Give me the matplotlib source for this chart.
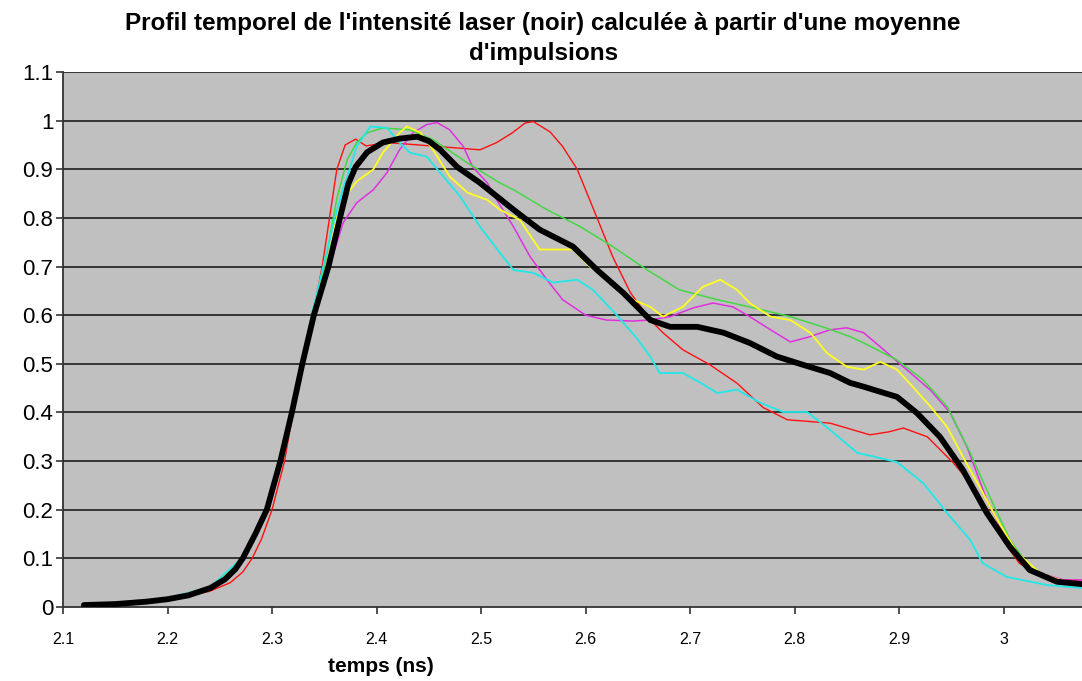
import numpy as np
import matplotlib as mpl
mpl.use('Agg')
import matplotlib.pyplot as plt

# black = average pulse, the coloured ones = single pulses
black_t = [2.12, 2.15, 2.18, 2.2, 2.22, 2.241, 2.255, 2.265, 2.272, 2.284,
           2.295, 2.308, 2.319, 2.329, 2.340, 2.354, 2.365, 2.373, 2.380, 2.391,
           2.406, 2.422, 2.439, 2.45, 2.461, 2.477, 2.499, 2.531, 2.556, 2.588,
           2.611, 2.636, 2.662, 2.681, 2.707, 2.732, 2.757, 2.783, 2.808, 2.834,
           2.853, 2.866, 2.898, 2.917, 2.939, 2.961, 2.984, 3.006, 3.025, 3.051,
           3.075]
black_i = [0.004, 0.006, 0.011, 0.016, 0.024, 0.039, 0.057, 0.078, 0.1, 0.15,
           0.2, 0.3, 0.4, 0.5, 0.6, 0.7, 0.8, 0.87, 0.905, 0.935,
           0.955, 0.963, 0.967, 0.958, 0.94, 0.905, 0.872, 0.817, 0.776, 0.741,
           0.693, 0.646, 0.59, 0.576, 0.576, 0.564, 0.543, 0.515, 0.498, 0.481,
           0.461, 0.453, 0.432, 0.399, 0.35, 0.282, 0.193, 0.124, 0.076, 0.052,
           0.047]

red_t = [2.12, 2.2, 2.24, 2.26, 2.272, 2.281, 2.29, 2.300, 2.312, 2.320,
         2.330, 2.339, 2.348, 2.355, 2.362, 2.370, 2.38, 2.39, 2.41, 2.44,
         2.47, 2.499, 2.515, 2.53, 2.542, 2.55, 2.566, 2.578, 2.592, 2.611,
         2.626, 2.643, 2.662, 2.674, 2.693, 2.719, 2.745, 2.77, 2.793, 2.834,
         2.872, 2.89, 2.904, 2.927, 2.952, 2.968, 2.985, 3.0, 3.015, 3.035,
         3.055, 3.075]
red_i = [0.004, 0.015, 0.032, 0.05, 0.072, 0.1, 0.14, 0.2, 0.3, 0.4,
         0.5, 0.6, 0.7, 0.8, 0.9, 0.95, 0.962, 0.948, 0.955, 0.95,
         0.945, 0.94, 0.955, 0.975, 0.995, 0.998, 0.977, 0.947, 0.9, 0.8,
         0.72, 0.646, 0.59, 0.564, 0.529, 0.498, 0.46, 0.41, 0.385, 0.378,
         0.354, 0.36, 0.368, 0.35, 0.296, 0.255, 0.2, 0.135, 0.09, 0.063,
         0.056, 0.055]

green_t = [2.12, 2.2, 2.241, 2.272, 2.295, 2.308, 2.319, 2.329, 2.340, 2.352,
           2.362, 2.372, 2.381, 2.391, 2.406, 2.432, 2.454, 2.487, 2.518, 2.531,
           2.563, 2.595, 2.626, 2.659, 2.69, 2.726, 2.757, 2.796, 2.827, 2.853,
           2.866, 2.898, 2.923, 2.946, 2.968, 2.987, 3.006, 3.025, 3.05, 3.075]
green_i = [0.004, 0.017, 0.04, 0.1, 0.2, 0.3, 0.4, 0.5, 0.6, 0.72,
           0.84, 0.92, 0.955, 0.975, 0.985, 0.981, 0.961, 0.913, 0.872, 0.858,
           0.817, 0.782, 0.741, 0.693, 0.652, 0.632, 0.617, 0.597, 0.576, 0.556,
           0.543, 0.508, 0.467, 0.412, 0.317, 0.226, 0.138, 0.082, 0.052, 0.045]

cyan_t = [2.12, 2.2, 2.241, 2.271, 2.294, 2.307, 2.318, 2.328, 2.338, 2.349,
          2.36, 2.368, 2.375, 2.381, 2.394, 2.41, 2.422, 2.432, 2.448, 2.464,
          2.48, 2.499, 2.518, 2.531, 2.55, 2.569, 2.592, 2.607, 2.63, 2.65,
          2.662, 2.671, 2.693, 2.71, 2.726, 2.745, 2.767, 2.789, 2.812, 2.834,
          2.86, 2.898, 2.923, 2.946, 2.968, 2.98, 3.003, 3.042, 3.075]
cyan_i = [0.004, 0.018, 0.041, 0.1, 0.2, 0.3, 0.4, 0.5, 0.6, 0.7,
          0.8, 0.86, 0.905, 0.947, 0.988, 0.985, 0.955, 0.934, 0.926, 0.885,
          0.844, 0.782, 0.728, 0.693, 0.687, 0.667, 0.673, 0.652, 0.6, 0.55,
          0.514, 0.481, 0.481, 0.461, 0.44, 0.447, 0.42, 0.401, 0.401, 0.364,
          0.317, 0.298, 0.255, 0.193, 0.138, 0.09, 0.062, 0.045, 0.039]

yellow_t = [2.12, 2.2, 2.241, 2.272, 2.295, 2.308, 2.319, 2.329, 2.340, 2.352,
            2.362, 2.372, 2.381, 2.397, 2.406, 2.422, 2.429, 2.442, 2.454, 2.47,
            2.487, 2.506, 2.518, 2.537, 2.556, 2.573, 2.588, 2.604, 2.626, 2.645,
            2.662, 2.674, 2.693, 2.712, 2.729, 2.745, 2.757, 2.777, 2.796, 2.815,
            2.831, 2.85, 2.866, 2.882, 2.898, 2.913, 2.93, 2.946, 2.961, 2.977,
            2.994, 3.013, 3.035, 3.055, 3.075]
yellow_i = [0.004, 0.017, 0.04, 0.1, 0.2, 0.3, 0.4, 0.5, 0.6, 0.7,
            0.8, 0.85, 0.875, 0.9, 0.934, 0.975, 0.988, 0.975, 0.94, 0.885,
            0.852, 0.837, 0.817, 0.796, 0.735, 0.735, 0.735, 0.70, 0.667, 0.632,
            0.617, 0.597, 0.617, 0.658, 0.673, 0.652, 0.625, 0.597, 0.59, 0.564,
            0.522, 0.494, 0.488, 0.504, 0.488, 0.453, 0.412, 0.37, 0.309, 0.247,
            0.179, 0.111, 0.07, 0.055, 0.05]

magenta_t = [2.12, 2.2, 2.241, 2.272, 2.295, 2.308, 2.319, 2.329, 2.340, 2.350,
             2.358, 2.368, 2.381, 2.397, 2.41, 2.422, 2.435, 2.448, 2.458, 2.47,
             2.483, 2.492, 2.506, 2.515, 2.531, 2.547, 2.563, 2.578, 2.6, 2.62,
             2.645, 2.662, 2.681, 2.703, 2.722, 2.741, 2.757, 2.777, 2.796, 2.815,
             2.834, 2.85, 2.866, 2.882, 2.904, 2.93, 2.949, 2.965, 2.984, 3.003,
             3.025, 3.057, 3.075]
magenta_i = [0.004, 0.017, 0.04, 0.1, 0.2, 0.3, 0.4, 0.5, 0.6, 0.66,
             0.72, 0.79, 0.831, 0.858, 0.893, 0.94, 0.975, 0.992, 0.996, 0.981,
             0.947, 0.905, 0.872, 0.837, 0.782, 0.72, 0.673, 0.632, 0.6, 0.59,
             0.588, 0.59, 0.597, 0.615, 0.625, 0.617, 0.597, 0.57, 0.545, 0.556,
             0.57, 0.574, 0.564, 0.535, 0.494, 0.446, 0.399, 0.329, 0.22, 0.138,
             0.076, 0.056, 0.055]

x_ticks = [2.1, 2.2, 2.3, 2.4, 2.5, 2.6, 2.7, 2.8, 2.9, 3.0]
x_labels = ['2.1', '2.2', '2.3', '2.4', '2.5', '2.6', '2.7', '2.8', '2.9', '3']
y_ticks = [0, 0.1, 0.2, 0.3, 0.4, 0.5, 0.6, 0.7, 0.8, 0.9, 1.0, 1.1]
y_labels = ['0', '0.1', '0.2', '0.3', '0.4', '0.5', '0.6', '0.7', '0.8', '0.9', '1', '1.1']

plt.rcParams['font.family'] = ['Liberation Sans', 'DejaVu Sans']

fig = plt.figure(figsize=(10.82, 6.81), dpi=100)
ax = fig.add_axes([63 / 1082, 74 / 681, 1019 / 1082, 535 / 681])
ax.set_facecolor('#c0c0c0')

for yy in y_ticks[1:]:
    ax.axhline(yy, color='#2a2a2a', lw=1.3, zorder=1)

ax.plot(red_t, red_i, color='#ff1010', lw=1.0, zorder=2)
ax.plot(magenta_t, magenta_i, color='#e030e0', lw=1.1, zorder=2)
ax.plot(green_t, green_i, color='#44d844', lw=1.1, zorder=2)
ax.plot(yellow_t, yellow_i, color='#ffff20', lw=1.3, zorder=2)
ax.plot(cyan_t, cyan_i, color='#20e8e8', lw=1.3, zorder=2)
ax.plot(black_t, black_i, color='black', lw=4.2, zorder=3,
        solid_capstyle='round', solid_joinstyle='round')

ax.set_xlim(2.1, 3.075)
ax.set_ylim(0, 1.1)
ax.set_xticks(x_ticks)
ax.set_xticklabels(x_labels, fontsize=11.5)
ax.set_yticks(y_ticks)
ax.set_yticklabels(y_labels, fontsize=16)
ax.tick_params(axis='x', direction='out', length=5, width=1.2, color='#333333', pad=13)
ax.tick_params(axis='y', direction='out', length=5, width=1.2, color='#333333', pad=2)

for s in ['top', 'right']:
    ax.spines[s].set_visible(False)
ax.spines['left'].set_color('#333333')
ax.spines['bottom'].set_color('#333333')
ax.spines['left'].set_linewidth(1.3)
ax.spines['bottom'].set_linewidth(1.3)

fig.text(0.502, 0.966, "Profil temporel de l'intensité laser (noir) calculée à partir d'une moyenne",
         ha='center', va='center', fontsize=17.5, fontweight='bold')
fig.text(0.502, 0.922, "d'impulsions", ha='center', va='center', fontsize=17.5, fontweight='bold')
fig.text(0.352, 0.022, 'temps (ns)', ha='center', va='center', fontsize=15, fontweight='bold')

fig.savefig('out.png', dpi=100)
